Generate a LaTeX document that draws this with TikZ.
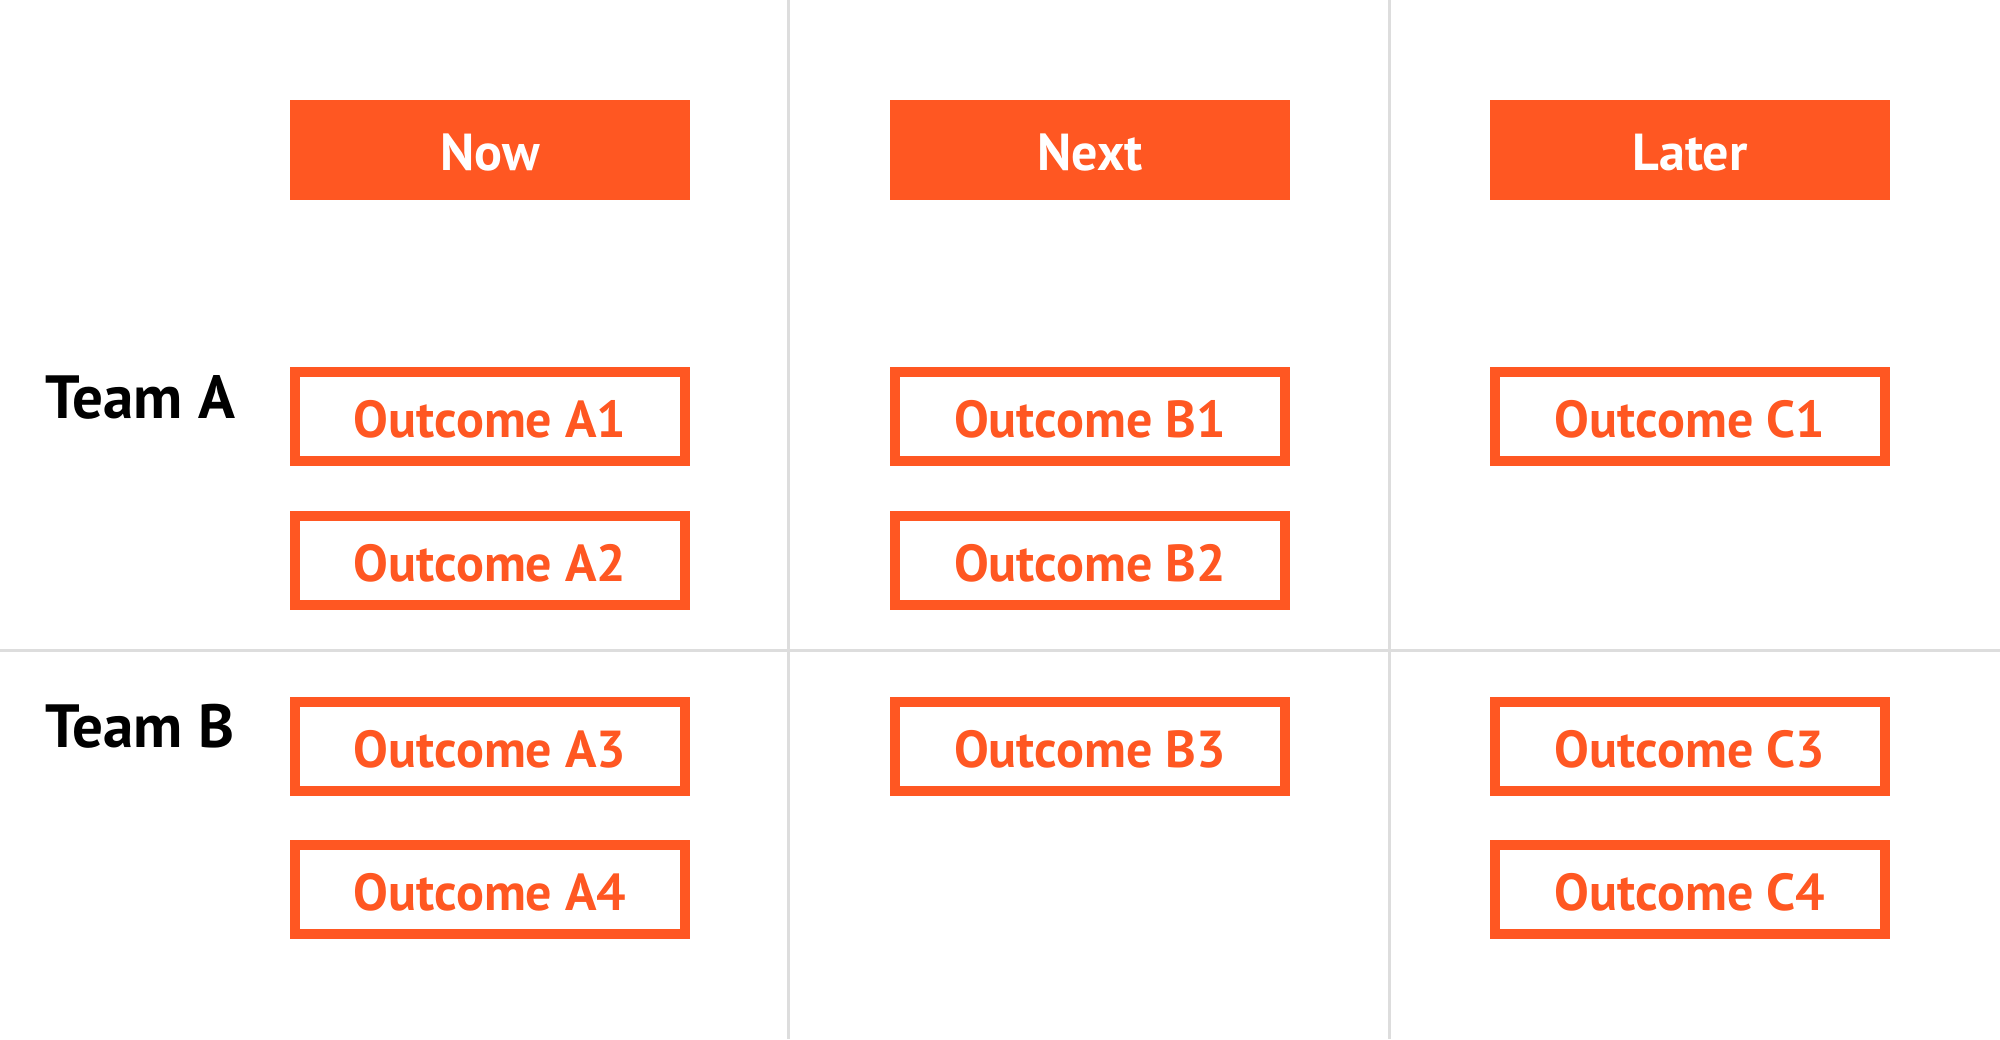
\documentclass[tikz,border=0pt]{standalone}
\usepackage{fontspec}
\setmainfont{PT Sans}
\usepackage{xcolor}
\usepackage{tikz}
\definecolor{roadorange}{HTML}{FF5722}
\definecolor{gridgray}{HTML}{DDDDDD}

\begin{document}
\begin{tikzpicture}[x=0.5pt,y=-0.5pt]
        \def\boxfont{\fontsize{26}{30}\selectfont\bfseries}
        \def\xspacing{600}
        \def\xoffset{490}

        \tikzset{header/.style={
           fill=roadorange,
           text=white,
           font=\boxfont,
           minimum width=200pt,
           minimum height=50pt,
           text height=21.2pt,
           text depth=0pt,
           inner sep=0pt
        }}
        \tikzset{outcome/.style={
           draw=roadorange,
           line width=5pt,
           fill=white,
           text=roadorange,
           font=\boxfont,
           minimum width=195pt,
           minimum height=44.5pt,
           text height=21.2pt,
           text depth=0pt,
           inner sep=0pt
        }}
        \tikzset{team/.style={
           anchor=base west,
           font=\fontsize{30.5}{34}\selectfont\bfseries,
           inner sep=0pt
        }}

        \useasboundingbox (0,0) rectangle (2000,1039);

        % Grid
        \coordinate (gridtop1) at (788,0);
        \coordinate (gridbot1) at (788,1039);
        \coordinate (gridtop2) at (1389,0);
        \coordinate (gridbot2) at (1389,1039);
        \coordinate (gridleft) at (0,650.5);
        \coordinate (gridright) at (2000,650.5);
        \draw[gridgray, line width=1.5pt] (gridtop1) -- (gridbot1);
        \draw[gridgray, line width=1.5pt] (gridtop2) -- (gridbot2);
        \draw[gridgray, line width=1.5pt] (gridleft) -- (gridright);

        % Headers
        \node[header] (Now) at (\xoffset + 0 * \xspacing, 149.5) {Now};
        \node[header] (Next) at (\xoffset + 1 * \xspacing, 149.5) {Next};
        \node[header] (Later) at (\xoffset + 2 * \xspacing, 149.5) {Later};

        % Teams
        \node[team] (TeamA) at (45,418) {Team A};
        \node[team] (TeamB) at (45,747.3) {Team B};

        % Now
        \node[outcome] (A1) at (\xoffset + 0 * \xspacing, 416.7) {Outcome A1};
        \node[outcome] (A2) at (\xoffset + 0 * \xspacing, 560) {Outcome A2};
        \node[outcome] (A3) at (\xoffset + 0 * \xspacing, 746) {Outcome A3};
        \node[outcome] (A4) at (\xoffset + 0 * \xspacing, 889) {Outcome A4};

        % Next
        \node[outcome] (B1) at (\xoffset + 1 * \xspacing, 416.7) {Outcome B1};
        \node[outcome] (B2) at (\xoffset + 1 * \xspacing, 560) {Outcome B2};
        \node[outcome] (B3) at (\xoffset + 1 * \xspacing, 746) {Outcome B3};

        % Later
        \node[outcome] (C1) at (\xoffset + 2 * \xspacing, 416.7) {Outcome C1};
        \node[outcome] (C3) at (\xoffset + 2 * \xspacing, 746) {Outcome C3};
        \node[outcome] (C4) at (\xoffset + 2 * \xspacing, 889) {Outcome C4};
\end{tikzpicture}
\end{document}
